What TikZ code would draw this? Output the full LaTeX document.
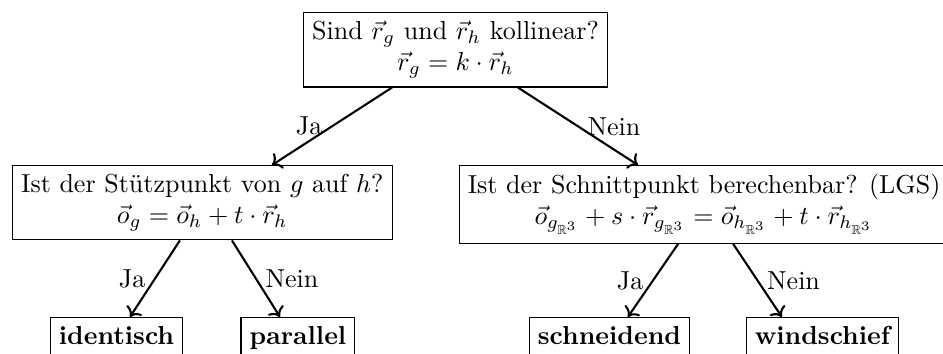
\documentclass[tikz,border=0pt]{standalone}
\usepackage{amsmath}
\usepackage{amssymb}
\usepackage{tikz}
\usetikzlibrary{arrows.meta,calc,positioning}

\begin{document}
\begin{tikzpicture}[
    frage/.style={draw,align=center,inner sep=3.33pt},
    ergebnis/.style={draw,font=\bfseries,inner sep=3.33pt,text depth=3pt},
    pfeil/.style={->,thick}
  ]
  \useasboundingbox (0,0) rectangle (362.7pt,-135.8pt);

  \node[frage,anchor=north] (kolli) at (175.2pt,-4.6pt)
    {Sind $\vec{r}_g$ und $\vec{r}_h$ kollinear?\\ $\vec{r}_g = k\cdot\vec{r}_h$};
  \node[frage,anchor=north west] (stuetz) at (4.6pt,-63.5pt)
    {Ist der St\"utzpunkt von $g$ auf $h$?\\ $\vec{o}_g = \vec{o}_h + t\cdot\vec{r}_h$};
  \node[frage,anchor=north west] (schnitt) at (176.4pt,-63.5pt)
    {Ist der Schnittpunkt berechenbar? (LGS)\\
     $\vec{o}_{g_{\mathbb{R}^3}} + s\cdot\vec{r}_{g_{\mathbb{R}^3}} = \vec{o}_{h_{\mathbb{R}^3}} + t\cdot\vec{r}_{h_{\mathbb{R}^3}}$};

  \node[ergebnis,anchor=north] (ident) at (44.8pt,-121.9pt) {identisch};
  \node[ergebnis,anchor=north] (paral) at (114.6pt,-121.9pt) {parallel};
  \node[ergebnis,anchor=north] (schneid) at (234.4pt,-121.9pt) {schneidend};
  \node[ergebnis,anchor=north] (windsch) at (316.3pt,-121.9pt) {windschief};

  % erste Ebene
  \draw[pfeil] ([xshift=-24.4pt]kolli.south) -- node[midway,left] {Ja} ([xshift=100pt]stuetz.north west);
  \draw[pfeil] ([xshift=24pt]kolli.south) -- node[midway,right] {Nein} ([xshift=69pt]schnitt.north west);

  % zweite Ebene
  \draw[pfeil] ([xshift=64.6pt]stuetz.south west) -- node[midway,left] {Ja} ([xshift=5.2pt]ident.north);
  \draw[pfeil] ([xshift=84.6pt]stuetz.south west) -- node[midway,right] {Nein} ([xshift=-6.9pt]paral.north);
  \draw[pfeil] ([xshift=84.4pt]schnitt.south west) -- node[midway,left] {Ja} ([xshift=7.1pt]schneid.north);
  \draw[pfeil] ([xshift=105.6pt]schnitt.south west) -- node[midway,right] {Nein} ([xshift=-15.6pt]windsch.north);
\end{tikzpicture}
\end{document}
